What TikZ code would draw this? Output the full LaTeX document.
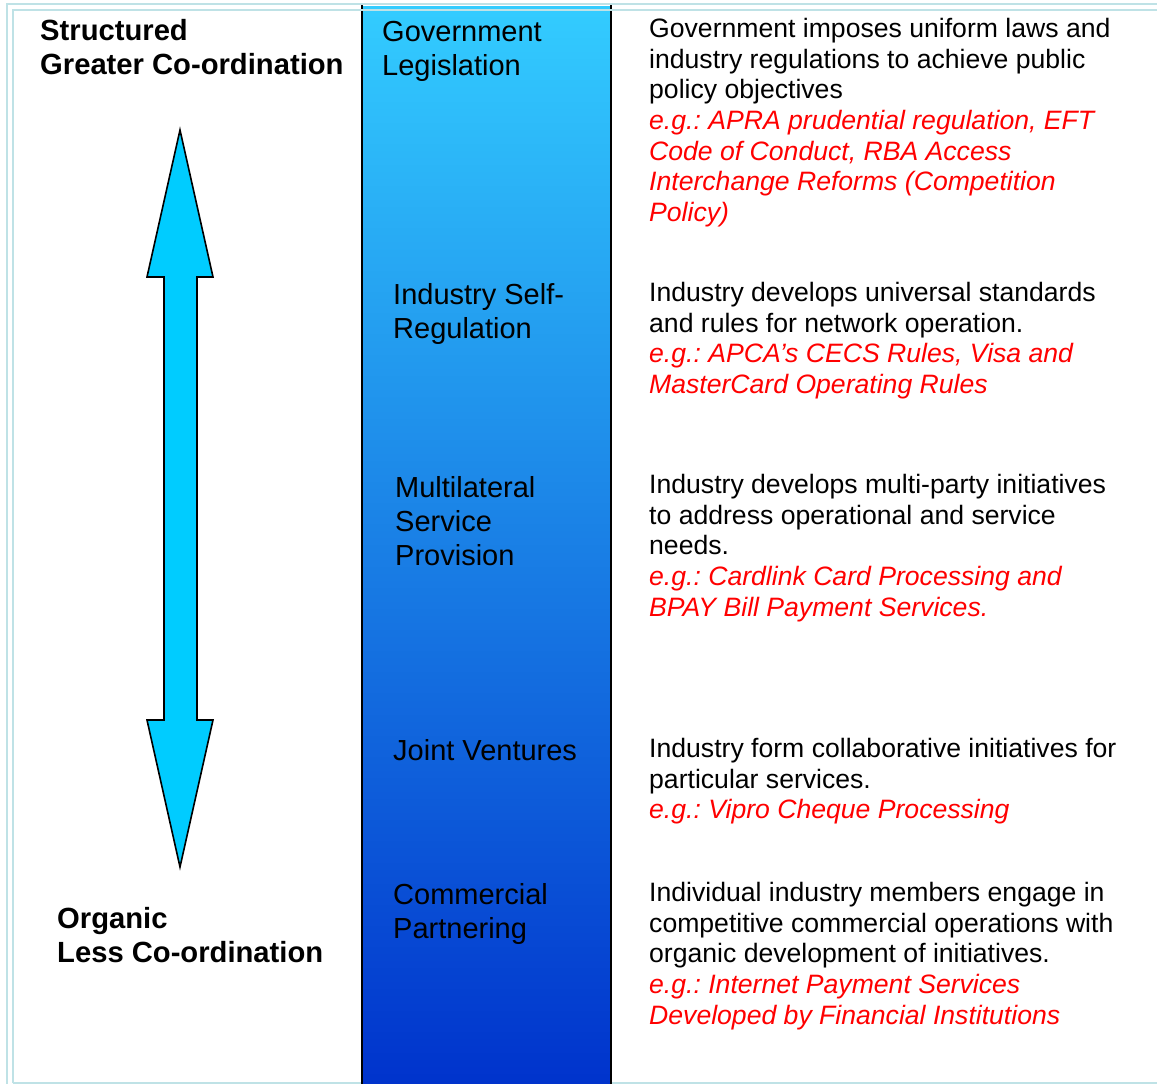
\documentclass[tikz,border=0pt]{standalone}
\usepackage{fontspec}
\setmainfont{Liberation Sans}
\usepackage{xcolor}
\frenchspacing
\definecolor{frameblue}{HTML}{BFE2E6}
\definecolor{coltop}{HTML}{33CCFF}
\definecolor{colbot}{HTML}{0033CC}
\definecolor{arrowfill}{HTML}{00CCFF}
\definecolor{exred}{HTML}{FF0000}
\newcommand{\exline}[1]{{\color{exred}\itshape #1}}
\newcommand{\desc}[1]{\begin{tabular}[t]{@{}l@{}}#1\end{tabular}}
\begin{document}
\begin{tikzpicture}[x=1pt,y=-1pt,
  frameline/.style={draw=frameblue,line width=2pt},
  desctext/.style={anchor=base west,inner sep=0pt,font=\fontsize{26.6}{30.7}\selectfont},
  levtext/.style={anchor=base west,inner sep=0pt,font=\fontsize{29}{34}\selectfont},
  sidetext/.style={anchor=base west,inner sep=0pt,font=\fontsize{29.2}{34}\selectfont\bfseries},
  bigarrow/.style={draw=black,line width=1.6pt,fill=arrowfill,line join=miter}]
\useasboundingbox (0,0) rectangle (1157,1084);
\fill[white] (0,0) rectangle (1157,1084);
% frame (bottom part)
\draw[frameline] (13,1083) -- (1157,1083);
% column
\shade[top color=coltop,bottom color=colbot] (362,6) rectangle (611,1084);
\draw[black,line width=1.8pt] (362,5) -- (362,1084);
\draw[black,line width=1.8pt] (611,5) -- (611,1084);
% frame (left and top), drawn over the column top
\draw[frameline] (7,1084) -- (7,4) -- (1157,4);
\draw[frameline] (13,1083) -- (13,10) -- (1157,10);
% double arrow
\draw[bigarrow] (180,130) -- (213,277) -- (197,277) -- (197,720) -- (213,720)
  -- (180,867) -- (147,720) -- (164,720) -- (164,277) -- (147,277) -- cycle;
% side labels
\node[sidetext] (top) at (40,40.5) {\begin{tabular}[t]{@{}l@{}}Structured\\Greater Co-ordination\end{tabular}};
\node[sidetext] (bot) at (57,928.5) {\begin{tabular}[t]{@{}l@{}}Organic\\Less Co-ordination\end{tabular}};
% level labels
\node[levtext] (l1) at (382,41.5) {\begin{tabular}[t]{@{}l@{}}Government\\Legislation\end{tabular}};
\node[levtext] (l2) at (393,304.5) {\begin{tabular}[t]{@{}l@{}}Industry Self-\\Regulation\end{tabular}};
\node[levtext] (l3) at (395,497.5) {\begin{tabular}[t]{@{}l@{}}Multilateral\\Service\\Provision\end{tabular}};
\node[levtext] (l4) at (393,760.5) {Joint Ventures};
\node[levtext] (l5) at (393,904.5) {\begin{tabular}[t]{@{}l@{}}Commercial\\Partnering\end{tabular}};
% descriptions
\node[desctext] (d1) at (649,37.5) {\desc{Government imposes uniform laws and\\
industry regulations to achieve public\\
policy objectives\\
\exline{e.g.: APRA prudential regulation, EFT}\\
\exline{Code of Conduct, RBA Access}\\
\exline{Interchange Reforms (Competition}\\
\exline{Policy)}}};
\node[desctext] (d2) at (649,301.5) {\desc{Industry develops universal standards\\
and rules for network operation.\\
\exline{e.g.: APCA’s CECS Rules, Visa and}\\
\exline{MasterCard Operating Rules}}};
\node[desctext] (d3) at (649,493.5) {\desc{Industry develops multi-party initiatives\\
to address operational and service\\
needs.\\
\exline{e.g.: Cardlink Card Processing and}\\
\exline{BPAY Bill Payment Services.}}};
\node[desctext] (d4) at (649,757.5) {\desc{Industry form collaborative initiatives for\\
particular services.\\
\exline{e.g.: Vipro Cheque Processing}}};
\node[desctext] (d5) at (649,901.5) {\desc{Individual industry members engage in\\
competitive commercial operations with\\
organic development of initiatives.\\
\exline{e.g.: Internet Payment Services}\\
\exline{Developed by Financial Institutions}}};
\end{tikzpicture}
\end{document}
